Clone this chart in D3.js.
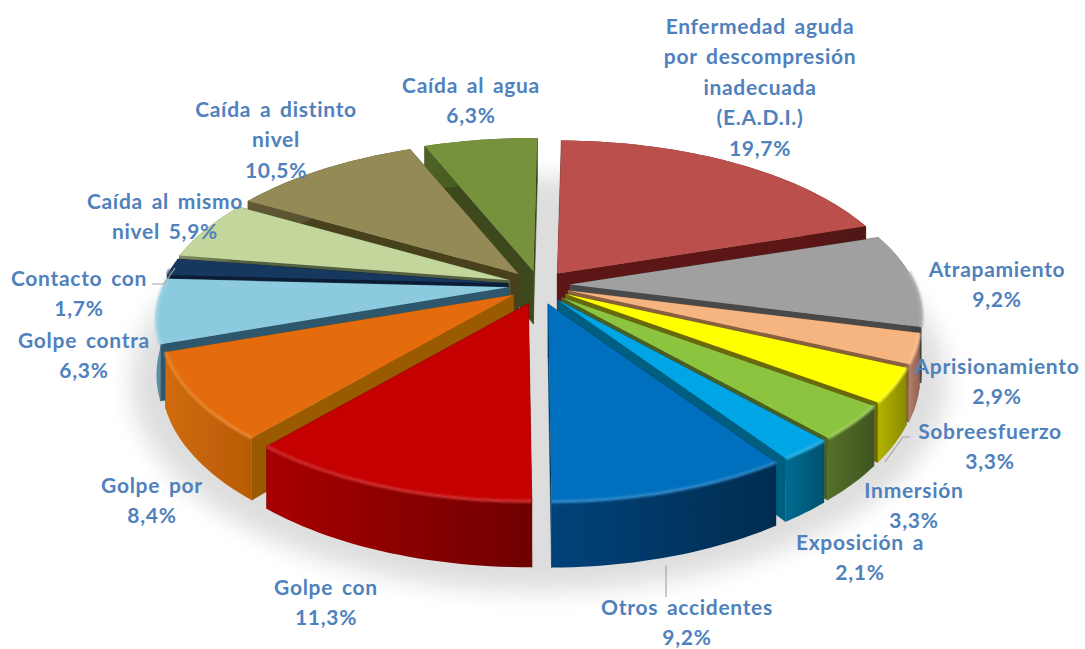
<!DOCTYPE html>
<html><head><meta charset="utf-8">
<script src="https://cdnjs.cloudflare.com/ajax/libs/d3/7.8.5/d3.min.js"></script>
<style>html,body{margin:0;padding:0;background:#fff}svg{display:block}
text{font-family:Lato,"Open Sans",sans-serif;font-weight:700;font-size:21px;letter-spacing:.7px;fill:#4f81bd;word-spacing:3px;text-anchor:middle;dominant-baseline:central}</style>
</head><body><svg id="c" width="1085" height="649"></svg>
<script>
// data
const categories=["Enfermedad aguda por descompresión inadecuada (E.A.D.I.)","Atrapamiento","Aprisionamiento","Sobreesfuerzo","Inmersión","Exposición a","Otros accidentes","Golpe con","Golpe por","Golpe contra","Contacto con","Caída al mismo nivel","Caída a distinto nivel","Caída al agua"];
const values=[19.7,9.2,2.9,3.3,3.3,2.1,9.2,11.3,8.4,6.3,1.7,5.9,10.5,6.3];
const labelLines=[["Enfermedad aguda","por descompresión","inadecuada","(E.A.D.I.)","{v}"],["Atrapamiento","{v}"],["Aprisionamiento","{v}"],["Sobreesfuerzo","{v}"],["Inmersión","{v}"],["Exposición a","{v}"],["Otros accidentes","{v}"],["Golpe con","{v}"],["Golpe por","{v}"],["Golpe contra","{v}"],["Contacto con","{v}"],["Caída al mismo","nivel {v}"],["Caída a distinto","nivel","{v}"],["Caída al agua","{v}"]];
// styles
const topColors=["#bb4f4c","#a0a0a0","#f6b580","#ffff00","#8cc43f","#00a5e5","#006fbe","#c40000","#e46c0a","#8ccbdf","#17375e","#c3d69b","#948a54","#76923c"];
const wallLight=["#7a2522","#666666","#b5806a","#b3b300","#55702a","#006c90","#00427a","#a80000","#d06a08","#5a8fa5","#0f2440","#7f8c60","#625a35","#4f6226"];
const wallDark=["#4f1412","#3c3c3c","#8f6350","#8a8a00","#3f5520","#00506f","#002c50","#6e0000","#b85c06","#365d70","#0a1830","#5f6b48","#48422a","#35431c"];
const radialWall=["#5c1714","#4a4a4a","#8a6040","#6a6a10","#4a5f22","#005f80","#00385f","#6e0000","#9a5a05","#2f566c","#0b1c36","#55603f","#47421f","#3c4a1c"];
// label centres [x, first-line y], one per category
const labelAnchors=[[760,25],[997,268],[997,365],[990,430],[914,489],[860,541],[687,606],[326,586],[152,484],[84,339],[79,277],[165,200],[276,108],[471,84]];
const lineStep=30.5;
const leaders=[[[666,565],[666,597]],[[152,284],[164,284],[175,268]],[[910,437],[903,437],[885,462]]];
// geometry
const cx=539,cy=285,Rx=345,Ry=159,k=0.196,depth=53,explode=0.09,rotation=0.8*Math.PI/180;
const sx=d3.scaleLinear().domain([-1,1]).range([-Rx,Rx]);
const sy=d3.scaleLinear().domain([-1,1]).range([-Ry,Ry]);
function proj(r,a,mid){ // r: radius, a: angle clockwise from top, mid: slice bisector (explosion direction)
  const s=r*Math.sin(a), c=-r*Math.cos(a), f=1/(1-k*c);
  const em=-Math.cos(mid), ey=explode*em*(1+0.4*Math.max(0,em));
  return {x:cx+sx(s)*f+sx(explode*Math.sin(mid)),y:cy+sy(c)*f+sy(ey),f,c};
}
const pie=d3.pie().sort(null).value(d=>d).startAngle(rotation).endAngle(rotation+2*Math.PI);
const arcs=pie(values).map((d,i)=>({...d,i,mid:(d.startAngle+d.endAngle)/2}));
const svg=d3.select("#c");
const defs=svg.append("defs");
defs.append("filter").attr("id","sh").attr("x","-20%").attr("y","-20%").attr("width","140%").attr("height","140%")
  .append("feGaussianBlur").attr("stdDeviation",12);
defs.append("filter").attr("id","soft").append("feGaussianBlur").attr("stdDeviation",0.6);
defs.append("filter").attr("id","rim").attr("x","-20%").attr("y","-20%").attr("width","140%").attr("height","140%")
  .append("feGaussianBlur").attr("stdDeviation",1.2);
const line=d3.line().x(p=>p.x).y(p=>p.y);
// shadow
const full=d3.range(0,2*Math.PI,0.05).map(a=>{const p=proj(1.07,a,a);return {x:p.x,y:p.y+depth*p.f+4};});
svg.append("path").attr("d",line(full)+"Z").attr("fill","#000").attr("opacity",0.13).attr("filter","url(#sh)");
const g=svg.append("g").attr("filter","url(#soft)");
function samples(d){const n=Math.max(6,Math.ceil((d.endAngle-d.startAngle)*40));
  return d3.range(n+1).map(t=>d.startAngle+(d.endAngle-d.startAngle)*t/n);}
const down=p=>({x:p.x,y:p.y+depth*p.f});
const order=arcs.slice().sort((a,b)=>(-Math.cos(a.mid))-(-Math.cos(b.mid)));
order.forEach(d=>{
  const col=topColors[d.i];
  const apex=proj(0,0,d.mid);
  const rim=samples(d).map(a=>proj(1,a,d.mid));
  const gid="w"+d.i, first=rim[0], last=rim[rim.length-1];
  const gr=defs.append("linearGradient").attr("id",gid).attr("gradientUnits","userSpaceOnUse")
    .attr("x1",Math.min(first.x,last.x)).attr("x2",Math.max(first.x,last.x)).attr("y1",0).attr("y2",0);
  gr.append("stop").attr("offset",0).attr("stop-color",wallLight[d.i]);
  gr.append("stop").attr("offset",1).attr("stop-color",wallDark[d.i]);
  const walls=[first,last].map(e=>[apex,e,down(e),down(apex)]);
  walls.sort((a,b)=>a[1].c-b[1].c);
  walls.forEach(w=>g.append("path").attr("d",line(w)+"Z").attr("fill",radialWall[d.i]).attr("stroke",radialWall[d.i]).attr("stroke-width",0.5));
  g.append("path").attr("d",line(rim.concat(rim.map(down).reverse()))+"Z").attr("fill",`url(#${gid})`);
  g.append("path").attr("d",line([apex,...rim])+"Z").attr("fill",col);
  // bevel highlight along the front rim
  const front=rim.filter(p=>p.c>-0.1);
  if(front.length>1) g.append("path").attr("d",line(front)).attr("fill","none")
    .attr("stroke",d3.interpolateRgb(col,"#fff")(0.18)).attr("stroke-width",3).attr("filter","url(#rim)");
});
// leaders
svg.append("g").selectAll("path").data(leaders).join("path").attr("d",d=>d3.line()(d))
  .attr("fill","none").attr("stroke","#a6a6a6").attr("stroke-width",1.2);
// labels
const fmt=v=>v.toFixed(1).replace(".",",")+"%";
const lab=svg.append("g");
labelLines.forEach((ls,i)=>{
  ls.forEach((t,j)=>lab.append("text").attr("x",labelAnchors[i][0]).attr("y",labelAnchors[i][1]+j*lineStep).text(t.replace("{v}",fmt(values[i]))));
});
</script></body></html>
